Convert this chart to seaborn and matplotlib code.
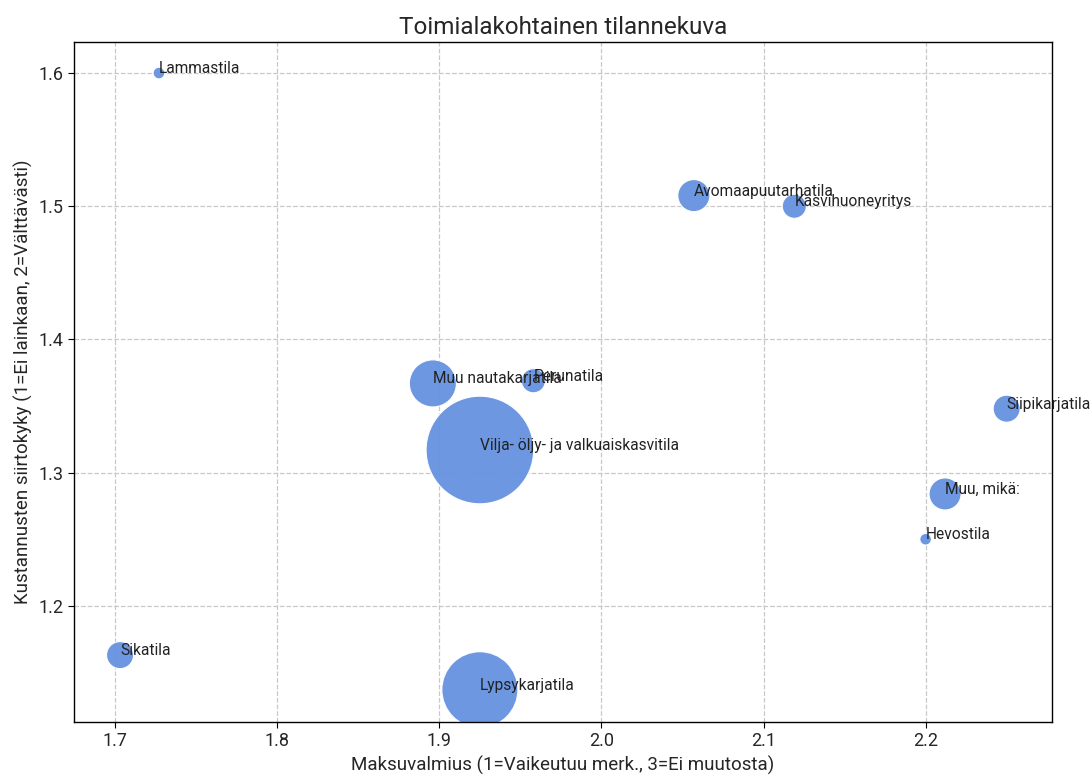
import matplotlib
matplotlib.use("Agg")
import matplotlib.pyplot as plt
import seaborn as sns
import pandas as pd

# Toimialat ja niiden keskiarvot (luettu kuvasta)
toimialat = [
    "Lammastila", "Avomaapuutarhatila", "Kasvihuoneyritys", "Muu nautakarjatila",
    "Perunatila", "Vilja- öljy- ja valkuaiskasvitila", "Siipikarjatila",
    "Muu, mikä:", "Hevostila", "Sikatila", "Lypsykarjatila",
]
maksuvalmius = [1.727, 2.057, 2.119, 1.896, 1.958, 1.925, 2.250, 2.212, 2.200, 1.703, 1.925]
siirtokyky = [1.600, 1.508, 1.500, 1.367, 1.369, 1.317, 1.348, 1.284, 1.250, 1.163, 1.137]
vastaajia = [1, 7, 4, 15, 4, 78, 5, 7, 1, 5, 39]

df = pd.DataFrame({
    "toimiala": toimialat,
    "maksuvalmius": maksuvalmius,
    "siirtokyky": siirtokyky,
    "n": vastaajia,
})

sns.set_style("white")
plt.rcParams["font.family"] = ["Roboto", "DejaVu Sans"]

fig, ax = plt.subplots(figsize=(10.91, 7.78), dpi=100)
fig.subplots_adjust(left=0.068, right=0.964, top=0.946, bottom=0.072)

sns.scatterplot(
    data=df, x="maksuvalmius", y="siirtokyky", size="n",
    sizes=(70, 6000), color="#6592E0", alpha=0.95,
    edgecolor="white", linewidth=0.8, legend=False, ax=ax,
)

for _, r in df.iterrows():
    ax.text(r["maksuvalmius"], r["siirtokyky"], r["toimiala"], fontsize=11.2, color="#222222")

ax.set_xlim(1.6747, 2.2778)
ax.set_ylim(1.1128, 1.6233)
ax.grid(True, linestyle="--", color="#c8c8c8", linewidth=0.9)
ax.set_axisbelow(True)
for s in ax.spines.values():
    s.set_color("black")
    s.set_linewidth(1.0)
ax.tick_params(axis="both", labelsize=13, length=4, color="black", left=True, bottom=True)

ax.set_title("Toimialakohtainen tilannekuva", fontsize=17.5)
ax.set_xlabel("Maksuvalmius (1=Vaikeutuu merk., 3=Ei muutosta)", fontsize=13.5)
ax.set_ylabel("Kustannusten siirtokyky (1=Ei lainkaan, 2=Välttävästi)", fontsize=13.5)

fig.savefig("out.png", dpi=100)
